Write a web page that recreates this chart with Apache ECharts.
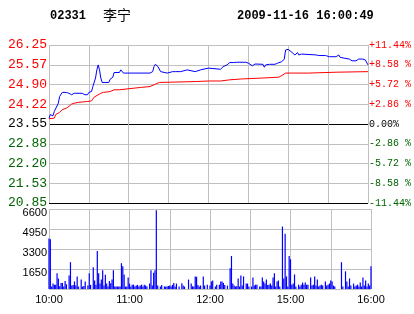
<!DOCTYPE html>
<html><head><meta charset="utf-8">
<script src="https://cdn.jsdelivr.net/npm/echarts@6/dist/echarts.min.js"></script>
<style>html,body{margin:0;padding:0;background:#fff}#c{width:414px;height:314px}</style>
</head><body><div id="c"></div>
<script>
const stockCode = '02331';
const stockName = '李宁';
const stamp = '2009-11-16 16:00:49';
const timeLabels = {0:'10:00', 60:'11:00', 120:'12:00', 180:'15:00', 240:'16:00'};
const priceTicks = ['20.85','21.53','22.20','22.88','23.55','24.22','24.90','25.57','26.25'];
const pctTicks = ['-11.44%','-8.58 %','-5.72 %','-2.86 %','0.00%','+2.86 %','+5.72 %','+8.58 %','+11.44%'];
const volTicks = ['', '1650', '3300', '4950', '6600'];
const priceMin = 20.85, priceMax = 26.25, priceStep = 0.675;
const volMax = 6600, volStep = 1650;

// [minute from open, price]
const lastPrice = [[0,23.75],[1,23.87],[3,23.83],[4,23.98],[5,24.04],[7,24.26],[8,24.49],[9,24.51],[10,24.63],[13,24.63],
[14,24.57],[15,24.60],[17,24.55],[18,24.57],[19,24.60],[20,24.63],[25,24.60],[27,24.55],[29,24.55],[30,24.63],
[32,24.66],[33,24.83],[35,25.12],[36,25.40],[37,25.57],[38,25.40],[39,25.12],[40,24.97],[45,24.97],[46,25.08],
[48,25.15],[49,25.31],[53,25.31],[54,25.40],[55,25.34],[56,25.29],[76,25.29],[78,25.34],[79,25.51],[80,25.59],
[82,25.51],[84,25.34],[85,25.29],[89,25.29],[90,25.34],[93,25.34],[94,25.40],[95,25.34],[99,25.34],[100,25.40],
[104,25.40],[105,25.34],[110,25.34],[111,25.40],[114,25.40],[115,25.46],[120,25.46],[121,25.42],[129,25.42],[131,25.51],
[134,25.57],[136,25.65],[137,25.60],[139,25.65],[140,25.60],[141,25.66],[142,25.60],[143,25.66],[148,25.66],[150,25.63],
[151,25.60],[153,25.54],[155,25.60],[161,25.59],[162,25.49],[163,25.57],[166,25.59],[170,25.59],[172,25.63],[175,25.68],
[177,25.76],[178,26.08],[180,26.10],[181,26.08],[183,25.99],[185,25.91],[186,25.94],[187,25.99],[188,25.91],[190,25.94],
[191,25.91],[201,25.91],[202,25.93],[203,25.89],[208,25.89],[211,25.85],[216,25.85],[218,25.91],[219,25.83],[222,25.80],
[226,25.77],[228,25.71],[231,25.71],[233,25.77],[236,25.77],[238,25.74],[239,25.68],[240,25.57]];

// [minute from open, average price]
const avgPrice = [[0,23.73],[4,23.75],[5,23.87],[8,23.95],[10,24.04],[13,24.09],[15,24.15],[17,24.23],[19,24.26],[22,24.29],
[29,24.32],[32,24.34],[33,24.40],[34,24.47],[35,24.51],[39,24.60],[41,24.63],[46,24.66],[49,24.72],[53,24.72],
[54,24.77],[69,24.80],[76,24.83],[79,24.89],[83,24.97],[110,25.00],[120,25.02],[129,25.02],[130,25.06],[136,25.06],
[137,25.09],[145,25.09],[146,25.12],[160,25.12],[161,25.15],[173,25.15],[176,25.23],[178,25.29],[195,25.29],[196,25.32],
[216,25.32],[217,25.34],[240,25.34]];

// volume per minute, 241 minutes
const volumes = [
4170,4100,200,450,360,360,1290,870,220,500,
500,200,670,390,0,1120,2210,280,340,620,
280,1040,200,0,780,200,250,620,0,280,
1290,340,0,1790,700,360,3140,1290,450,780,
1540,280,1180,450,200,670,480,780,1540,200,
200,200,200,200,2130,1880,1200,200,200,950,
450,200,360,360,200,280,340,200,280,360,
200,360,280,200,0,450,1540,280,1340,1540,
6500,280,0,200,340,0,200,200,200,250,
280,200,340,500,200,450,0,200,0,480,
280,200,0,0,780,0,450,220,200,1040,
1010,340,200,280,0,1040,280,0,360,0,
280,620,700,0,200,360,0,360,620,620,
500,340,0,280,0,1710,2720,450,280,200,
250,870,200,1120,280,1040,0,450,450,200,
0,200,950,280,360,360,0,200,200,950,
620,450,780,340,360,450,280,950,1290,200,
620,700,200,0,5150,870,4560,1040,200,2720,
2460,360,450,1200,200,0,360,200,360,530,
360,530,360,360,0,950,280,360,1040,280,
780,200,280,360,280,0,620,280,360,450,
700,620,280,200,0,0,0,0,2210,200,
0,1460,620,200,870,280,0,450,200,280,
360,200,530,200,950,280,700,200,450,280,
1880];

const RED = '#ff0000', GREEN = '#006400', GRAY = '#c0c0c0';
const tickIdx = v => Math.round((v - priceMin) / priceStep);
const tickColor = i => i > 4 ? RED : (i === 4 ? '#000000' : GREEN);

const chart = echarts.init(document.getElementById('c'), null, {renderer: 'canvas'});
const monoLeft = {fontFamily: 'Liberation Mono', fontSize: 13};
chart.setOption({
  animation: false,
  backgroundColor: '#ffffff',
  title: [
    {text: stockCode, left: 50, top: 10, padding: 0, textStyle: {fontFamily: 'Liberation Mono', fontWeight: 'bold', fontSize: 12, color: '#000'}},
    {text: stockName, left: 103, top: 8, padding: 0, textStyle: {fontFamily: 'Noto Sans CJK SC', fontWeight: 'normal', fontSize: 14, color: '#000'}},
    {text: stamp, left: 237, top: 10, padding: 0, textStyle: {fontFamily: 'Liberation Mono', fontWeight: 'bold', fontSize: 12, color: '#000'}}
  ],
  grid: [
    {left: 49, right: 43, top: 45, height: 158},
    {left: 49, right: 43, top: 209, height: 80}
  ],
  xAxis: [
    {gridIndex: 0, type: 'value', min: 0, max: 240, interval: 30,
     axisLine: {show: false}, axisTick: {show: false}, axisLabel: {show: false},
     splitLine: {show: true, lineStyle: {color: GRAY, width: 1}}},
    {gridIndex: 1, type: 'value', min: 0, max: 240, interval: 30,
     axisLine: {show: false}, axisTick: {show: false},
     axisLabel: {show: true, showMinLabel: true, showMaxLabel: true, margin: 5,
       formatter: v => timeLabels[v] || '', color: '#000', fontFamily: 'Liberation Sans', fontSize: 11},
     splitLine: {show: true, lineStyle: {color: GRAY, width: 1}}}
  ],
  yAxis: [
    {gridIndex: 0, type: 'value', min: priceMin, max: priceMax, interval: priceStep, position: 'left',
     axisLine: {show: false}, axisTick: {show: false},
     axisLabel: Object.assign({margin: 2, showMinLabel: true, showMaxLabel: true, padding: [0, 0, 4, 0],
       formatter: v => priceTicks[tickIdx(v)] || '',
       color: v => tickColor(tickIdx(v))}, monoLeft),
     splitLine: {show: true, lineStyle: {width: 1,
       color: ['#000000', GRAY, GRAY, GRAY, '#000000', GRAY, GRAY, GRAY, GRAY]}}},
    {gridIndex: 0, type: 'value', min: priceMin, max: priceMax, interval: priceStep, position: 'right',
     axisLine: {show: false}, axisTick: {show: false}, splitLine: {show: false},
     axisLabel: {margin: 1, showMinLabel: true, showMaxLabel: true, padding: [0, 0, 4, 0],
       formatter: v => pctTicks[tickIdx(v)] || '',
       color: v => tickColor(tickIdx(v)), fontFamily: 'Liberation Mono', fontSize: 10}},
    {gridIndex: 1, type: 'value', min: 0, max: volMax, interval: volStep,
     axisLine: {show: false}, axisTick: {show: false},
     axisLabel: {margin: 2, formatter: v => volTicks[Math.round(v / volStep)] || '',
       color: '#000', fontFamily: 'Liberation Sans', fontSize: 11, verticalAlign: 'top', padding: [-2, 0, 0, 0]},
     splitLine: {show: true, lineStyle: {color: GRAY, width: 1}}}
  ],
  series: [
    {type: 'line', xAxisIndex: 0, yAxisIndex: 0, data: avgPrice, showSymbol: false,
     lineStyle: {color: RED, width: 1}, itemStyle: {color: RED}},
    {type: 'line', xAxisIndex: 0, yAxisIndex: 0, data: lastPrice, showSymbol: false,
     lineStyle: {color: '#0000ff', width: 1}, itemStyle: {color: '#0000ff'}},
    {type: 'bar', xAxisIndex: 1, yAxisIndex: 2, data: volumes.map((v, i) => [i, v]),
     barWidth: 1.2, itemStyle: {color: '#0000ff'}}
  ]
});
</script></body></html>
